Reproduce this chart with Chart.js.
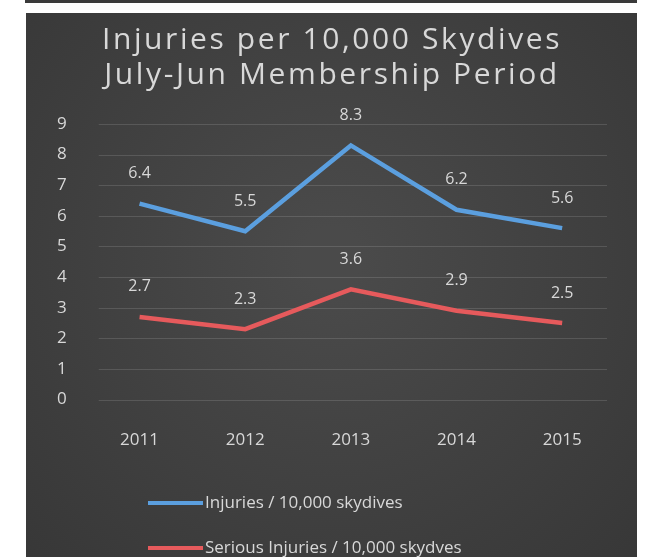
<!DOCTYPE html>
<html>
<head>
<meta charset="utf-8">
<script src="https://cdn.jsdelivr.net/npm/chart.js@4/dist/chart.umd.min.js"></script>
<style>
  html, body { margin: 0; padding: 0; background: #ffffff; }
  body { width: 649px; height: 557px; position: relative; overflow: hidden; }
  #band { position: absolute; left: 25px; top: 0; width: 612px; height: 3px; background: #3a3a3a; }
  #wrap { position: absolute; left: 26px; top: 13px; width: 611px; height: 544px; }
</style>
</head>
<body>
<div id="band"></div>
<div id="wrap"><canvas id="c" width="611" height="544"></canvas></div>
<script>
const titleLines = ['Injuries per 10,000 Skydives', 'July-Jun Membership Period'];
const years = ['2011', '2012', '2013', '2014', '2015'];
const injuries = [6.4, 5.5, 8.3, 6.2, 5.6];
const seriousInjuries = [2.7, 2.3, 3.6, 2.9, 2.5];
const seriesNames = ['Injuries / 10,000 skydives', 'Serious Injuries / 10,000 skydves'];
const yTicks = [0, 1, 2, 3, 4, 5, 6, 7, 8, 9];

const textColor = '#d8d8d8';
const labelFont = '"Open Sans", sans-serif';

const bgPlugin = {
  id: 'bg',
  beforeDraw(chart) {
    const ctx = chart.ctx, w = chart.width, h = chart.height;
    ctx.save();
    const g = ctx.createRadialGradient(w * 0.5, h * 0.45, 30, w * 0.5, h * 0.45, w * 0.75);
    g.addColorStop(0, '#4a4a4a');
    g.addColorStop(1, '#363636');
    ctx.fillStyle = g;
    ctx.fillRect(0, 0, w, h);
    ctx.restore();
  }
};

const gridPlugin = {
  id: 'insetGrid',
  beforeDatasetsDraw(chart) {
    const ctx = chart.ctx, y = chart.scales.y, a = chart.chartArea;
    ctx.save();
    ctx.strokeStyle = 'rgba(255,255,255,0.13)';
    ctx.lineWidth = 1;
    yTicks.forEach(v => {
      const py = Math.round(y.getPixelForValue(v)) + 0.5;
      ctx.beginPath();
      ctx.moveTo(a.left + 12, py);
      ctx.lineTo(a.right - 8, py);
      ctx.stroke();
    });
    ctx.restore();
  }
};

const titlePlugin = {
  id: 'spacedTitle',
  afterDraw(chart) {
    const ctx = chart.ctx;
    ctx.save();
    ctx.font = '30px ' + labelFont;
    if ('letterSpacing' in ctx) ctx.letterSpacing = '2.6px';
    ctx.fillStyle = textColor;
    ctx.textAlign = 'center';
    ctx.textBaseline = 'middle';
    const cx = 306;
    titleLines.forEach((t, i) => ctx.fillText(t, cx, 27 + i * 35));
    ctx.restore();
  }
};

const valueLabels = {
  id: 'valueLabels',
  afterDatasetsDraw(chart) {
    const ctx = chart.ctx;
    ctx.save();
    ctx.font = '16px ' + labelFont;
    ctx.fillStyle = textColor;
    ctx.textAlign = 'center';
    ctx.textBaseline = 'middle';
    chart.data.datasets.forEach((ds, i) => {
      chart.getDatasetMeta(i).data.forEach((pt, j) => {
        ctx.fillText(ds.data[j].toFixed(1), pt.x, pt.y - 30);
      });
    });
    ctx.restore();
  }
};

const legendPlugin = {
  id: 'customLegend',
  afterDraw(chart) {
    const ctx = chart.ctx;
    ctx.save();
    ctx.font = '17px ' + labelFont;
    ctx.textBaseline = 'middle';
    ctx.textAlign = 'left';
    const x0 = 122, y0 = 490, gap = 45;
    chart.data.datasets.forEach((ds, i) => {
      const y = y0 + i * gap;
      ctx.strokeStyle = ds.borderColor;
      ctx.lineWidth = 4;
      ctx.lineCap = 'butt';
      ctx.beginPath();
      ctx.moveTo(x0, y);
      ctx.lineTo(x0 + 55, y);
      ctx.stroke();
      ctx.fillStyle = textColor;
      ctx.fillText(ds.label, x0 + 57, y);
    });
    ctx.restore();
  }
};

new Chart(document.getElementById('c'), {
  type: 'line',
  data: {
    labels: years,
    datasets: [
      { label: seriesNames[0], data: injuries, borderColor: '#5b9fdf', backgroundColor: '#5b9fdf', borderWidth: 4.5, pointRadius: 0, tension: 0, fill: false },
      { label: seriesNames[1], data: seriousInjuries, borderColor: '#e65a5c', backgroundColor: '#e65a5c', borderWidth: 4.5, pointRadius: 0, tension: 0, fill: false }
    ]
  },
  options: {
    responsive: false,
    animation: false,
    devicePixelRatio: 1,
    layout: { padding: { left: 11, right: 22, top: 111, bottom: 77 } },
    plugins: {
      legend: { display: false },
      tooltip: { enabled: false },
      title: { display: false }
    },
    scales: {
      x: {
        offset: true,
        grid: { display: false, drawTicks: false },
        border: { display: false },
        ticks: { color: textColor, font: { family: labelFont, size: 17 }, padding: 30 }
      },
      y: {
        min: 0,
        max: 9,
        afterBuildTicks(axis) { axis.ticks = yTicks.map(v => ({ value: v })); },
        grid: { display: false, drawTicks: false },
        border: { display: false },
        ticks: { color: textColor, font: { family: labelFont, size: 17 }, padding: 20 }
      }
    }
  },
  plugins: [bgPlugin, gridPlugin, valueLabels, legendPlugin, titlePlugin]
});
</script>
</body>
</html>
